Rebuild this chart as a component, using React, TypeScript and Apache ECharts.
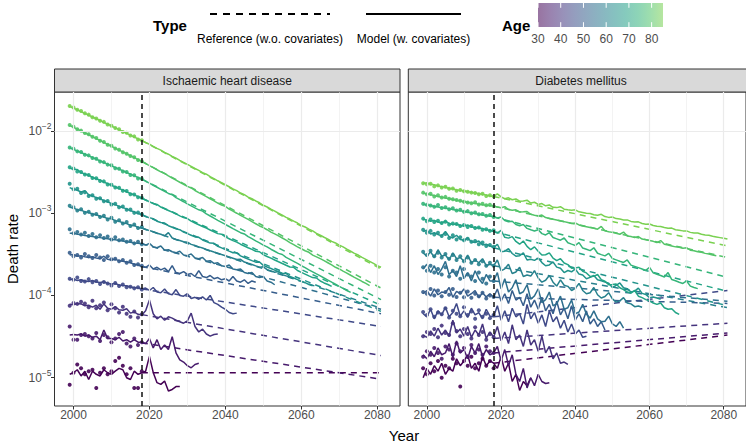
import React, { useEffect, useRef } from "react";
import * as echarts from "echarts";

const FONT = '"Liberation Sans", Arial, Helvetica, sans-serif';

// ---------------- data ----------------
const PANELS = ["Ischaemic heart disease", "Diabetes mellitus"];
const AGES = [30, 35, 40, 45, 50, 55, 60, 65, 70, 75, 80, 85];
const OBS_YEARS = [1999, 2000, 2001, 2002, 2003, 2004, 2005, 2006, 2007, 2008, 2009, 2010, 2011, 2012, 2013, 2014, 2015, 2016, 2017, 2018];
const MODEL_FIRST_YEAR = 1999; // model series run yearly from this year
const REF_YEARS = [2018, 2081];
const FORECAST_ORIGIN = 2018;
const X_TICKS = [2000, 2020, 2040, 2060, 2080];
const X_MINOR = [2010, 2030, 2050, 2070];
const Y_TICKS = [1e-5, 1e-4, 1e-3, 1e-2];
const Y_MINOR = [Math.pow(10, -4.5), Math.pow(10, -3.5), Math.pow(10, -2.5)];
const AGE_TICKS = [30, 40, 50, 60, 70, 80];
const AGE_RANGE = [30, 85];
const PER = 1e5; // all values below are deaths per 100,000

// Ischaemic heart disease: observed rates 1999–2018, one row per age group
const ihdObserved = [
  [0.82, 1.15, 1.45, 1.3, 1.1, 1.2, 1.25, 0.75, 1.15, 1.3, 1.1, 1.2, 1.6, 1.75, 1.4, 1.1, 1.3, 0.75, 0.75, 1.2],
  [4.2, 2.9, 2.9, 3.3, 3.4, 3.2, 3.0, 3.5, 2.8, 3.3, 3.1, 2.7, 3.0, 3.4, 3.6, 2.6, 2.4, 3.0, 2.5, 2.7],
  [7.5, 8.1, 7.9, 8.4, 8.0, 7.2, 8.6, 7.0, 7.6, 8.2, 6.6, 7.8, 7.0, 6.2, 7.3, 6.0, 5.5, 6.4, 5.4, 5.9],
  [16, 15.5, 16.5, 15, 14.8, 15.8, 14.5, 15, 13.8, 14.6, 14, 13.2, 14.2, 13, 13.6, 12.6, 12.8, 12.2, 12.6, 11.8],
  [33, 30, 31, 29, 32, 30, 28.5, 31, 29, 27, 30, 27.5, 28, 26, 27, 25, 26, 23.5, 24, 23],
  [64, 57, 59, 55, 58, 53, 56, 51, 54, 50, 52, 48, 51, 47, 48, 45, 46, 43, 45, 42],
  [123, 118, 108, 112, 101, 104, 96, 98, 90, 93, 84, 88, 79, 82, 75, 78, 70, 73, 66, 68],
  [228, 196, 198, 176, 180, 162, 165, 150, 152, 140, 141, 128, 130, 118, 121, 110, 111, 101, 102, 97],
  [362, 350, 322, 318, 296, 292, 268, 266, 246, 244, 224, 222, 205, 204, 188, 186, 170, 169, 156, 154],
  [630, 610, 565, 555, 515, 505, 470, 460, 425, 418, 390, 382, 352, 348, 322, 318, 292, 290, 265, 262],
  [1180, 1130, 1050, 1010, 945, 910, 850, 820, 760, 735, 680, 660, 612, 590, 550, 530, 495, 478, 445, 428],
  [2010, 1930, 1810, 1750, 1640, 1580, 1470, 1420, 1330, 1290, 1200, 1160, 1090, 1050, 970, 950, 880, 860, 790, 770],
];

// Ischaemic heart disease: model (w. covariates), yearly from 1999
const ihdModel = [
  [1.1, 1.15, 1.25, 1.05, 1.2, 0.95, 1.2, 1.1, 1.05, 1.25, 1.15, 1.1, 1.2, 1.3, 1.25, 1.0, 0.95, 1.2, 1.1, 1.15,
    1.2, 1.82, 1.16, 0.87, 0.83, 0.91, 0.69, 0.72, 0.78, 0.78],
  [3.3, 3.35, 3.3, 3.4, 3.2, 3.3, 3.1, 3.2, 2.9, 3.8, 3.0, 3.0, 2.9, 3.1, 2.8, 2.9, 2.7, 2.9, 2.7, 2.7,
    2.6, 3.0, 2.3, 2.9, 2.2, 2.5, 2.2, 3.15, 2.0, 1.65, 1.55, 1.4, 1.32, 1.45, 1.5],
  [7.8, 7.7, 8.0, 7.9, 7.5, 7.6, 7.2, 7.6, 6.8, 7.9, 7.0, 6.8, 7.3, 6.7, 6.6, 6.9, 6.1, 6.3, 5.9, 5.8,
    6.5, 8.8, 6.0, 5.2, 5.6, 5.0, 5.5, 5.3, 5.0, 4.8, 4.6, 4.9, 6.1, 4.2, 3.6, 3.9, 3.4, 3.2, 3.35, 3.4],
  [15.6, 15.8, 15.2, 15.5, 15, 14.8, 15.2, 14.6, 14.4, 14.7, 14, 13.8, 14, 13.4, 13.2, 13.1, 12.7, 12.5, 12.3, 12,
    12.3, 11.5, 12.5, 11, 10.8, 12, 10.5, 10.2, 11.8, 10, 9.8, 10.5, 9.2, 9.5, 9, 9.6, 8.8, 10, 8.2, 7.8, 7.2, 6.8, 6.2, 6.0, 6.1],
  [31, 31.5, 30, 30.5, 29.5, 29, 29.5, 28.5, 28, 30, 27.5, 27, 27.5, 26.5, 26, 25.5, 25, 24, 23.5, 22.5,
    22, 23.5, 21, 22, 20.5, 21.5, 19.5, 23, 19, 18.5, 19.5, 18, 18.5, 17, 20, 17, 16.5, 17.5, 16, 16.5,
    15.5, 16, 15, 17, 15, 14.5, 15.5, 14, 15, 14.5],
  [57, 57, 55.5, 55, 53.5, 53, 52, 51, 50.5, 49.5, 49, 48, 47.5, 46.5, 46, 45, 44.5, 43.5, 43, 42.5,
    41, 43, 39, 38, 40, 35.5, 36, 34, 33, 34.5, 31, 30.5, 32, 28.5, 28, 29, 26, 26.5, 24.5, 25,
    23, 22.5, 23.5, 21, 20.5, 21, 19, 18.5, 19, 17, 16.5, 17, 15, 14.5, 13.5],
  [118, 116, 110, 109, 104, 102, 98, 96, 92, 90, 86, 86, 81, 80, 76, 75, 71, 71, 67, 66,
    63.5, 61.5, 59.5, 57, 55.5, 53, 58, 50, 48, 46.5, 45, 44.5, 41.8, 40.5, 39, 37.7, 36.3, 35, 33.8, 32.7,
    31.5, 30.4, 29.4, 28.4, 27.4, 27.5, 25.5, 24.6, 23.8, 22.9, 22.1, 22.3, 20.6, 19.9, 19.2, 19.5, 17.9, 17.3, 16.7, 16.1],
  [205, 196, 190, 181, 188, 168, 162, 155, 150, 142, 138, 131, 127, 121, 117, 113, 107, 104, 99, 96,
    91, 88, 86, 80, 77, 76, 70.5, 67.5, 64.5, 63, 59, 56.5, 54, 51.5, 51, 47.3, 45.2, 43.3, 43, 39.6,
    37.9, 36.2, 34.6, 33.1, 33, 30.3, 29, 27.7, 26.5, 25.4, 25.5, 23.2, 22.2, 21.3, 20.3, 19.4, 18.6, 18.5, 17, 16.3,
    15.6, 14.9, 14.3, 13.6, 13.1],
  [355, 342, 340, 312, 300, 290, 272, 262, 252, 238, 230, 218, 210, 199, 192, 182, 174, 167, 159, 152,
    145, 138, 131, 128, 119, 113, 108, 103, 98, 93, 88.5, 86, 80, 76, 72.5, 69, 66, 62.5, 59.5, 56.5,
    55.5, 51.5, 49, 46.5, 44.5, 42, 40, 38, 36.3, 34.5, 34, 31.3, 29.8, 28.4, 27, 25.7, 24.5, 23.3, 22.2, 22,
    20.1, 19.1, 18.2, 17.3, 16.5, 16.3, 15, 14.2, 13.6, 12.9],
  [625, 598, 572, 547, 522, 498, 476, 454, 434, 414, 395, 377, 360, 344, 328, 313, 299, 285, 272, 260,
    245, 232, 219, 207, 195, 184, 174, 168, 155, 146, 138, 130, 123, 116, 110, 106, 98, 92.5, 87, 82,
    77.5, 73, 69, 65, 61.5, 58, 56, 52, 49, 46, 43.5, 41, 39, 36.5, 34.5, 32.5, 31.5, 29, 27.5, 26,
    24.5, 23, 21.8, 20.5, 19.4, 18.3, 17.3, 16.3, 15.4, 14.5, 13.7, 12.9, 12.2, 11.5, 10.9],
  [1170, 1110, 1055, 1000, 950, 900, 852, 808, 766, 726, 688, 652, 618, 586, 556, 527, 500, 474, 449, 426,
    402, 379, 358, 338, 319, 305, 284, 268, 253, 238, 225, 212, 203, 189, 178, 168, 159, 150, 141, 133,
    126, 121, 112, 106, 100, 94, 89, 84, 79, 74.5, 70, 67, 63, 59, 56, 53, 50, 47, 44, 41.5,
    39, 37, 35, 33.5, 31, 29.5, 28, 26.5, 25, 23.5, 22, 21, 19.8, 18.7, 17.6, 16.6, 15.7, 14.8, 14, 13.2],
  [2000, 1900, 1810, 1720, 1640, 1560, 1480, 1410, 1340, 1270, 1210, 1150, 1090, 1040, 985, 935, 890, 845, 800, 765,
    725, 690, 650, 615, 585, 550, 522, 490, 466, 438, 416, 392, 372, 350, 332, 312, 298, 278, 264, 248,
    236, 222, 210, 198, 188, 176, 168, 157, 150, 141, 134, 125, 119, 112, 106, 100, 95, 89, 85, 80,
    76, 71, 68, 64, 61, 57, 54, 51, 48.5, 45.5, 43.5, 41, 39, 36.5, 34.5, 32.5, 31, 29, 27.5, 26,
    24.5, 23, 22],
];

// Ischaemic heart disease: reference (w.o. covariates) at 2018 and 2081
const ihdRefStart = [1.15, 2.65, 5.85, 12, 22.5, 42.5, 66, 96, 152, 260, 426, 765];
const ihdRefEnd = [1.15, 0.96, 1.86, 4.2, 6.0, 6.8, 7.0, 6.4, 7.6, 8.9, 12.3, 21];

// Diabetes mellitus: observed rates 1999–2018
const dmObserved = [
  [1.3, 1.1, 1.5, 1.2, 1.6, 1.0, 1.4, 1.3, 1.7, 1.5, 0.78, 1.6, 1.4, 1.8, 1.3, 1.5, 1.7, 1.4, 1.6, 1.3],
  [1.8, 2.1, 1.9, 2.3, 2.0, 1.7, 2.4, 2.2, 1.9, 2.6, 2.1, 2.3, 1.8, 2.5, 2.0, 2.2, 1.9, 2.4, 2.1, 2.0],
  [3.2, 3.6, 3.4, 3.9, 3.1, 4.3, 3.5, 3.3, 4.6, 3.7, 3.2, 3.9, 3.4, 3.0, 4.1, 3.3, 3.6, 2.9, 3.4, 3.1],
  [6.3, 5.8, 6.8, 5.5, 6.2, 5.9, 7.0, 5.4, 6.5, 6.0, 5.6, 7.2, 5.8, 6.4, 5.2, 6.6, 5.5, 6.0, 5.3, 5.8],
  [11, 10.5, 12, 10, 11.5, 9.8, 11, 10.2, 12, 9.6, 10.8, 9.5, 11.2, 9.4, 10.5, 9.8, 10.8, 9.2, 10, 9.6],
  [22, 20, 23, 19, 21, 18, 22, 17, 20, 19, 16, 21, 18, 17, 15, 19, 16, 14, 17, 15],
  [34, 31, 35, 30, 33, 29, 32, 28, 31, 27, 30, 26, 29, 25, 27, 24, 26, 23, 25, 23],
  [63, 58, 61, 55, 58, 53, 56, 50, 54, 48, 51, 47, 49, 45, 46, 42, 44, 40, 41, 39],
  [86, 80, 84, 78, 81, 76, 79, 73, 75, 74, 70, 72, 68, 70, 66, 67, 63, 64, 61, 62],
  [130, 127, 124, 120, 126, 116, 118, 112, 115, 108, 110, 104, 106, 100, 102, 97, 98, 93, 95, 90],
  [178, 170, 172, 160, 165, 155, 158, 150, 148, 145, 142, 138, 135, 132, 136, 128, 130, 125, 127, 122],
  [232, 225, 228, 212, 218, 205, 210, 198, 200, 188, 192, 185, 182, 178, 176, 170, 172, 162, 165, 160],
];

// Diabetes mellitus: model (w. covariates), yearly from 1999
const dmModel = [
  [1.0, 1.3, 1.1, 1.4, 1.2, 1.5, 1.1, 1.3, 1.2, 1.7, 1.4, 1.6, 1.9, 1.3, 1.5, 1.2, 1.8, 1.4, 1.6, 1.5,
    1.3, 1.8, 1.2, 1.5, 0.9, 1.1, 0.7, 0.9, 0.8, 1.0],
  [1.9, 1.7, 2.1, 1.8, 2.3, 1.9, 2.0, 2.6, 1.8, 2.8, 2.0, 2.2, 1.7, 2.4, 2.0, 2.6, 1.8, 2.2, 1.9, 2.0,
    2.4, 1.6, 2.2, 1.4, 1.9, 1.1, 0.9, 1.3, 0.75, 1.0, 0.8, 1.1, 0.9, 0.85, 0.87],
  [3.3, 3.1, 3.7, 3.2, 4.0, 3.3, 3.8, 3.2, 5.0, 3.5, 3.9, 3.2, 4.2, 3.1, 3.8, 3.3, 4.5, 3.0, 3.6, 3.1,
    4.2, 2.8, 3.6, 2.6, 4.4, 2.9, 3.3, 2.4, 3.8, 2.5, 2.9, 2.1, 3.2, 2.0, 2.4, 1.7, 2.0, 1.5, 1.55, 1.45],
  [6.0, 5.5, 6.8, 5.2, 6.5, 5.8, 7.2, 5.5, 6.2, 8.0, 5.6, 6.5, 5.4, 7.0, 5.8, 6.2, 5.2, 6.8, 5.6, 5.5,
    7.5, 5.0, 6.5, 4.8, 7.0, 5.5, 6.0, 4.5, 7.8, 5.2, 6.2, 4.6, 5.8, 4.2, 6.5, 4.8, 5.5, 4.0, 5.0, 3.6,
    4.5, 3.4, 3.8, 3.1, 3.2],
  [10.5, 11.5, 9.8, 12, 10.2, 11, 10.8, 12.5, 9.5, 11.2, 10.5, 12, 9.8, 10.5, 11.5, 9.4, 10.8, 9.6, 10.5, 9.5,
    12, 8.5, 10.5, 8, 11.5, 8.8, 9.5, 7.5, 10.5, 7.2, 8.8, 6.8, 9.5, 6.5, 7.8, 6, 8.5, 5.8, 7, 5.2,
    7.5, 5, 6, 4.8, 6.5, 4.5, 5.2, 4.2, 4.8, 3.8],
  [21, 24, 19, 23, 18, 21, 26, 18, 20, 17, 23, 16, 19, 15, 20, 16, 14, 18, 15, 15,
    19, 12, 16, 11, 12.4, 15.5, 10.5, 11.1, 13.5, 9, 9.9, 12, 8.2, 8.9, 11, 7.5, 7.9, 9.8, 6.8, 7.1,
    8.8, 6, 6.3, 7.8, 5.9, 5.3, 6.5, 5.2, 4.8, 4.85, 5.6, 4.5, 4.2, 4.8, 4.0],
  [33, 30, 34, 29, 36, 30, 31, 27, 33, 28, 29, 26, 31, 25, 27, 25, 28, 23, 24, 23,
    27, 20, 21.1, 24, 18.5, 19.3, 22, 17, 17.7, 17.2, 20, 16.3, 14.5, 15.3, 17.5, 14.5, 13, 15.5, 13.3, 12.9,
    11.5, 12.2, 14, 11.5, 10.5, 10.8, 12.5, 10.2, 9.3, 9.7, 10.8, 9.1, 8.3, 8.6, 9.4, 8.1, 7.9, 7.3, 7.45, 7.2],
  [60, 62, 56, 58, 55, 53, 60, 52, 50, 54, 48, 47, 50, 45, 44, 46, 41, 42, 40, 38,
    42, 34, 34.5, 37, 32.4, 30, 30.4, 33, 27, 27.6, 26.7, 28.5, 25.1, 23, 23.5, 25.5, 22.1, 21.4, 19, 20.1,
    19.4, 21, 18.2, 17.7, 16, 16.6, 17.5, 15.5, 15.1, 14.6, 14.1, 12.5, 13.3, 14.2, 12.4, 12.1, 11, 11.3, 12.3, 10.6,
    10.3, 9.4, 9.6, 9.3, 9],
  [84, 83, 80, 82, 78, 76, 80, 75, 73, 74, 71, 70, 72, 68, 67, 66, 65, 63, 62, 60,
    57.3, 62, 51, 49.8, 52, 45.4, 42, 46, 39.5, 36, 39, 34.4, 31, 31.3, 33, 28.5, 26.5, 28, 24.8, 23.7,
    21.5, 21.6, 22, 19.7, 18.8, 17, 17.1, 18, 15.6, 14.9, 13.5, 13.6, 13.8, 12.4, 11.8, 11, 10.7, 11.5, 9.8, 9.4,
    8.9, 8.6, 8.1, 7.8, 8.1, 7.1, 6.8, 6.9, 6.2, 5.9],
  [128, 126, 124, 121, 119, 117, 115, 113, 111, 109, 107, 105, 103, 101, 99, 97, 95, 94, 92, 91,
    87.7, 90, 81.5, 78.6, 80, 73, 70.4, 73, 65.4, 63, 60.8, 63, 56.5, 54.4, 58, 50.6, 48.8, 47, 50, 43.7,
    42.1, 40.6, 44, 37.7, 36.4, 35.1, 38, 32.6, 31.4, 30.3, 32.5, 28.1, 27.1, 26.1, 25.2, 27, 23.4, 22.6, 21.8, 21,
    20.2, 22, 18.8, 18.1, 17.5, 16.8, 19, 15.6, 15.1, 14.5, 14, 15, 13, 12.5, 12.1],
  [175, 172, 168, 164, 160, 156, 153, 150, 147, 144, 141, 138, 136, 133, 131, 129, 127, 125, 123, 122,
    119, 116.5, 120, 111, 108.5, 110, 103.5, 104, 105, 97, 94.5, 92.5, 95, 88.5, 86.5, 84.5, 82.5, 80.5, 79, 77,
    75, 76, 72, 70, 68.5, 67, 65.5, 64, 69, 61, 59.5, 58.5, 57, 55.5, 59, 53, 52, 50.5, 52, 48.5,
    47.5, 46.5, 45.5, 44, 46.5, 42, 41, 40, 39, 38.5, 37.5, 38, 35.5, 35, 34, 33.5, 32.5, 32, 31, 30.5],
  [230, 235, 225, 222, 215, 210, 207, 200, 198, 192, 190, 186, 182, 180, 176, 172, 170, 166, 162, 160,
    172, 158, 150, 154, 146, 149, 140, 141, 144, 133, 136, 128, 131, 123, 126, 118, 117, 120, 112, 110,
    109, 110, 104, 102, 100, 99, 96, 94.5, 97, 91, 89, 90, 86, 85, 82.5, 83, 79.5, 78, 78.5, 75,
    73.5, 74, 71, 69.5, 69, 67, 65.5, 66, 63, 62, 61, 61, 58.5, 57.5, 57.5, 55.5, 54.5, 54, 52.5, 51.5,
    50.5, 49.5, 48.5],
];

// Diabetes mellitus: reference (w.o. covariates) at 2018 and 2081
const dmRefStart = [1.5, 2.0, 3.0, 5.5, 9.5, 15, 23, 38, 60, 90, 122, 160];
const dmRefEnd = [3.3, 3.5, 4.6, 11.5, 8.0, 8.5, 7.1, 7.5, 11.2, 16.6, 29, 40];

// ---------------- style / layout ----------------
const VIRIDIS = ["#440154", "#482475", "#414487", "#355F8D", "#2A788E", "#21918C", "#22A884", "#44BF70", "#7AD151", "#BDDF26", "#FDE725"];
const COLOR_END = 0.8;

function hexToRgb(h: string) {
  return [parseInt(h.slice(1, 3), 16), parseInt(h.slice(3, 5), 16), parseInt(h.slice(5, 7), 16)];
}
function viridis(t: number) {
  const p = Math.max(0, Math.min(1, t)) * 10;
  const i = Math.min(9, Math.floor(p));
  const f = p - i;
  const a = hexToRgb(VIRIDIS[i]);
  const b = hexToRgb(VIRIDIS[i + 1]);
  const c = a.map((v, k) => Math.round(v + (b[k] - v) * f));
  return `rgb(${c[0]},${c[1]},${c[2]})`;
}
const ageColor = (age: number) => viridis(((age - AGE_RANGE[0]) / (AGE_RANGE[1] - AGE_RANGE[0])) * COLOR_END);

const GRID_LEFTS = [54.5, 408.3];
const GRID_TOP = 92;
const GRID_W = 345.5;
const GRID_H = 314;
const X_MIN = 1995;
const X_MAX = 2086;
const Y_MIN = Math.pow(10, -5.344);
const Y_MAX = Math.pow(10, -1.526);

const TICK_COLOR = "#333333";
const LABEL_COLOR = "#4D4D4D";

export default function App() {
  const ref = useRef<HTMLDivElement>(null);

  useEffect(() => {
    if (!ref.current) return;
    const chart = echarts.init(ref.current, undefined, { renderer: "svg" });

    const panelData = [
      { observed: ihdObserved, model: ihdModel, refStart: ihdRefStart, refEnd: ihdRefEnd },
      { observed: dmObserved, model: dmModel, refStart: dmRefStart, refEnd: dmRefEnd },
    ];

    const grids = GRID_LEFTS.map((left) => ({
      left,
      top: GRID_TOP,
      width: GRID_W,
      height: GRID_H,
      show: true,
      borderColor: "#333333",
      borderWidth: 1,
      backgroundColor: "#ffffff",
      containLabel: false,
    }));

    const xAxes = GRID_LEFTS.map((_, p) => ({
      type: "value",
      gridIndex: p,
      min: X_MIN,
      max: X_MAX,
      axisLine: { show: false },
      splitLine: { show: false },
      axisTick: { show: true, customValues: X_TICKS, length: 3.5, lineStyle: { color: TICK_COLOR, width: 1 } },
      axisLabel: {
        customValues: X_TICKS,
        color: LABEL_COLOR,
        fontSize: 12,
        fontFamily: FONT,
        margin: 3,
        hideOverlap: false,
        formatter: (v: number) => (X_TICKS.indexOf(v) >= 0 ? String(v) : ""),
      },
    }));

    const yAxes = GRID_LEFTS.map((_, p) => ({
      type: "log",
      logBase: 10,
      gridIndex: p,
      min: Y_MIN,
      max: Y_MAX,
      axisLine: { show: false },
      splitLine: { show: false },
      axisTick: { show: p === 0, customValues: Y_TICKS, length: 3.5, lineStyle: { color: TICK_COLOR, width: 1 } },
      axisLabel: {
        show: p === 0,
        customValues: Y_TICKS,
        margin: 3,
        hideOverlap: false,
        formatter: (v: number) => {
          const e = Math.log10(v);
          const r = Math.round(e);
          if (Math.abs(e - r) > 0.01) return "";
          return `{b|10}{s|\u2212${Math.abs(r)}}`;
        },
        rich: {
          b: { fontSize: 12, fontFamily: FONT, color: LABEL_COLOR, lineHeight: 19, verticalAlign: "middle" },
          s: { fontSize: 8.5, fontFamily: FONT, color: LABEL_COLOR, lineHeight: 14, verticalAlign: "top" },
        },
      },
    }));

    const series: any[] = [];
    panelData.forEach((pd, p) => {
      // background grid lines
      series.push({
        type: "line",
        xAxisIndex: p,
        yAxisIndex: p,
        data: [],
        silent: true,
        z: 1,
        markLine: {
          silent: true,
          symbol: ["none", "none"],
          label: { show: false },
          animation: false,
          lineStyle: { type: "solid" },
          emphasis: { disabled: true },
          data: [
            ...Y_MINOR.map((v) => ({ yAxis: v, lineStyle: { color: "#EBEBEB", width: 0.6, type: "solid" } })),
            ...X_MINOR.map((v) => ({ xAxis: v, lineStyle: { color: "#EBEBEB", width: 0.6, type: "solid" } })),
            ...Y_TICKS.map((v) => ({ yAxis: v, lineStyle: { color: "#EBEBEB", width: 1.2, type: "solid" } })),
            ...X_TICKS.map((v) => ({ xAxis: v, lineStyle: { color: "#EBEBEB", width: 1.2, type: "solid" } })),
          ],
        },
      });
      AGES.forEach((age, a) => {
        const color = ageColor(age);
        series.push({
          type: "scatter",
          xAxisIndex: p,
          yAxisIndex: p,
          silent: true,
          z: 2,
          symbol: "circle",
          symbolSize: 4,
          itemStyle: { color, opacity: 0.9 },
          data: OBS_YEARS.map((yr, i) => [yr, pd.observed[a][i] / PER]),
        });
      });
      AGES.forEach((age, a) => {
        const color = ageColor(age);
        series.push({
          type: "line",
          xAxisIndex: p,
          yAxisIndex: p,
          silent: true,
          z: 3,
          symbol: "none",
          showSymbol: false,
          lineStyle: { color, width: 1.5, type: [6, 5] },
          data: [
            [REF_YEARS[0], pd.refStart[a] / PER],
            [REF_YEARS[1], pd.refEnd[a] / PER],
          ],
        });
        series.push({
          type: "line",
          xAxisIndex: p,
          yAxisIndex: p,
          silent: true,
          z: 3,
          symbol: "none",
          showSymbol: false,
          lineStyle: { color, width: 1.5 },
          data: pd.model[a].map((v, i) => [MODEL_FIRST_YEAR + i, v / PER]),
        });
      });
      // forecast origin line
      series.push({
        type: "line",
        xAxisIndex: p,
        yAxisIndex: p,
        data: [],
        silent: true,
        z: 6,
        markLine: {
          silent: true,
          symbol: ["none", "none"],
          label: { show: false },
          animation: false,
          emphasis: { disabled: true },
          lineStyle: { color: "#111111", width: 1.5, type: [5, 4] },
          data: [{ xAxis: FORECAST_ORIGIN }],
        },
      });
    });

    // colour-bar pieces
    const barX = 538;
    const barW = 125;
    const barY = 3;
    const barH = 24;
    const ageToX = (age: number) => barX + ((age - AGE_RANGE[0]) / (AGE_RANGE[1] - AGE_RANGE[0])) * barW;
    const gradStops = [];
    for (let k = 0; k <= 10; k++) {
      gradStops.push({ offset: k / 10, color: viridis((k / 10) * COLOR_END) });
    }

    const textStyle = (text: string, extra: any = {}) => ({
      text,
      fill: "#000",
      font: `12px ${FONT}`,
      textAlign: "center",
      align: "center",
      textVerticalAlign: "middle",
      verticalAlign: "middle",
      ...extra,
    });

    const graphic: any[] = [];
    // strips
    PANELS.forEach((name, p) => {
      graphic.push({
        type: "rect",
        shape: { x: GRID_LEFTS[p], y: 69, width: GRID_W, height: GRID_TOP - 69 },
        style: { fill: "#D9D9D9", stroke: "#333333", lineWidth: 1 },
        silent: true,
      });
      graphic.push({
        type: "text",
        x: GRID_LEFTS[p] + GRID_W / 2,
        y: 80.5,
        style: textStyle(name, { fill: "#1A1A1A" }),
        silent: true,
      });
    });
    // axis titles
    graphic.push({ type: "text", x: 404, y: 435.5, style: textStyle("Year", { font: `15px ${FONT}` }), silent: true });
    graphic.push({
      type: "text",
      x: 12.5,
      y: 249,
      rotation: Math.PI / 2,
      style: textStyle("Death rate", { font: `15px ${FONT}` }),
      silent: true,
    });
    // legend: Type
    graphic.push({
      type: "text",
      x: 153,
      y: 25,
      style: textStyle("Type", { font: `bold 15px ${FONT}`, textAlign: "left", align: "left" }),
      silent: true,
    });
    graphic.push({
      type: "line",
      shape: { x1: 210, y1: 14, x2: 330, y2: 14 },
      style: { stroke: "#000", lineWidth: 2, lineDash: [7, 6] },
      silent: true,
    });
    graphic.push({ type: "text", x: 270, y: 38.5, style: textStyle("Reference (w.o. covariates)"), silent: true });
    graphic.push({
      type: "line",
      shape: { x1: 366, y1: 14, x2: 461, y2: 14 },
      style: { stroke: "#000", lineWidth: 2 },
      silent: true,
    });
    graphic.push({ type: "text", x: 413.5, y: 38.5, style: textStyle("Model (w. covariates)"), silent: true });
    // legend: Age
    graphic.push({
      type: "text",
      x: 502,
      y: 25,
      style: textStyle("Age", { font: `bold 15px ${FONT}`, textAlign: "left", align: "left" }),
      silent: true,
    });
    graphic.push({
      type: "rect",
      shape: { x: barX, y: barY, width: barW, height: barH },
      style: { fill: new echarts.graphic.LinearGradient(0, 0, 1, 0, gradStops), opacity: 0.55 },
      silent: true,
    });
    AGE_TICKS.forEach((age) => {
      const x = ageToX(age);
      graphic.push({
        type: "line",
        shape: { x1: x, y1: barY, x2: x, y2: barY + barH / 5 },
        style: { stroke: "#ffffff", lineWidth: 1 },
        silent: true,
      });
      graphic.push({
        type: "line",
        shape: { x1: x, y1: barY + barH - barH / 5, x2: x, y2: barY + barH },
        style: { stroke: "#ffffff", lineWidth: 1 },
        silent: true,
      });
      graphic.push({ type: "text", x, y: 38.5, style: textStyle(String(age), { fill: "#4D4D4D" }), silent: true });
    });

    chart.setOption({
      animation: false,
      textStyle: { fontFamily: FONT },
      grid: grids,
      xAxis: xAxes,
      yAxis: yAxes,
      series,
      graphic,
    });

    return () => chart.dispose();
  }, []);

  return <div ref={ref} style={{ position: "fixed", left: 0, top: 0, width: 746, height: 443, background: "#fff" }} />;
}
